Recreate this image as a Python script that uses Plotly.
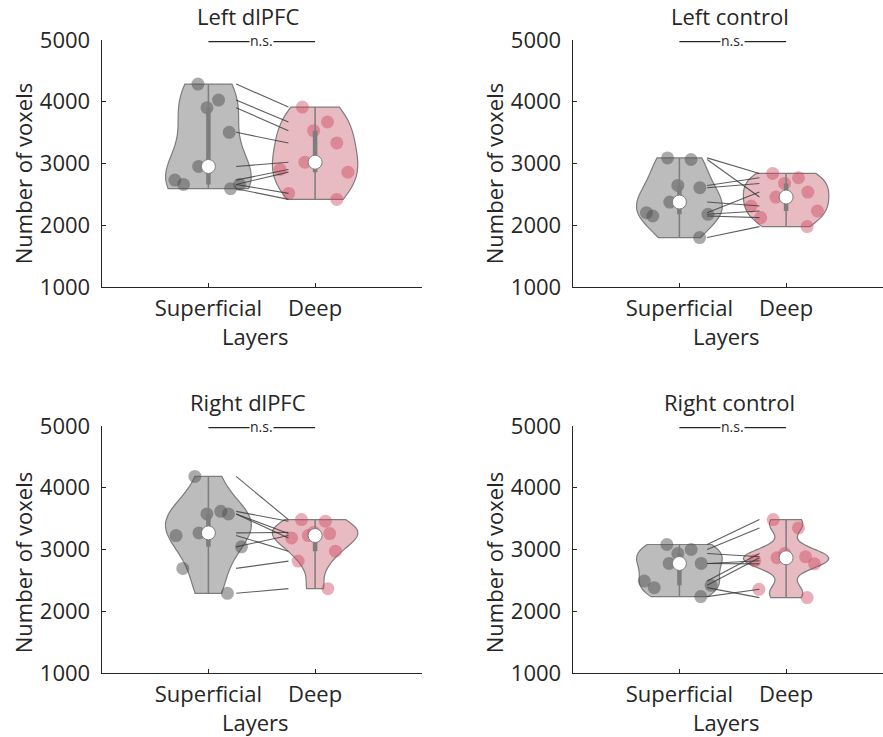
import numpy as np
import plotly.graph_objects as go

# ---- data -------------------------------------------------------------
LAYERS = ["Superficial", "Deep"]
PANEL_TITLES = ["Left dlPFC", "Left control", "Right dlPFC", "Right control"]
Y_TICKS = [1000, 2000, 3000, 4000, 5000]
SIG_LABEL = "n.s."

# voxel counts per subject (same subject order in both layers)
left_dlpfc_sup = [4286, 4027, 3903, 3505, 2952, 2731, 2661, 2661, 2592]
left_dlpfc_deep = [3914, 3672, 3532, 3333, 3021, 2903, 2860, 2516, 2419]

left_control_sup = [3091, 3065, 2645, 2608, 2376, 2204, 2177, 2150, 1801]
left_control_deep = [2839, 2457, 2769, 2677, 2312, 2538, 2231, 2124, 1978]

right_dlpfc_sup = [4183, 3618, 3576, 3576, 3269, 3226, 3043, 2694, 2291]
right_dlpfc_deep = [3484, 3458, 3258, 3188, 3278, 2973, 3226, 2812, 2366]

right_control_sup = [3081, 3000, 2936, 2774, 2774, 2489, 2420, 2382, 2237]
right_control_deep = [3484, 3350, 2882, 2818, 2768, 2936, 2866, 2221, 2355]

PANEL_DATA = [
    (left_dlpfc_sup, left_dlpfc_deep),
    (left_control_sup, left_control_deep),
    (right_dlpfc_sup, right_dlpfc_deep),
    (right_control_sup, right_control_deep),
]

# kernel bandwidth per violin (None -> library default)
BANDWIDTHS = [
    (None, None),
    (None, None),
    (None, None),
    (None, 150),
]

# ---- style ------------------------------------------------------------
W, H = 883, 737
FONT = "Open Sans"
FS = 22
TXT = "#262626"
EDGE = "rgb(125,125,125)"
FILLS = ["rgb(188,188,188)", "rgb(232,186,193)"]
DOTS = ["rgba(75,75,75,0.47)", "rgba(205,70,95,0.44)"]
PAIR_LINE = "rgba(55,55,55,0.8)"

POS = [1, 2]            # category positions on the x axis
PX_PER_UNIT = 106.7
# pixel geometry of the axes boxes
X_LEFT = [101.7, 572.7]
Y_TOP = [40, 426]
Y_BOT = [287, 673]
YTITLE_SHIFT = [10, 13]
NS_Y = 4975

fig = go.Figure()
layout = dict(
    width=W, height=H, margin=dict(l=0, r=0, t=0, b=0, autoexpand=False),
    paper_bgcolor="white", plot_bgcolor="white", showlegend=False,
    font=dict(family=FONT, size=FS, color=TXT),
)
annotations = []
shapes = []

for k, (sup, deep) in enumerate(PANEL_DATA):
    row, col = divmod(k, 2)
    ax = "" if k == 0 else str(k + 1)
    xref, yref = "x" + ax, "y" + ax

    x0 = X_LEFT[col]
    x1 = min(x0 + 3 * PX_PER_UNIT, W)
    xr = (x1 - x0) / PX_PER_UNIT
    layout["xaxis" + ax] = dict(
        domain=[x0 / W, x1 / W], range=[0, xr], anchor=yref, automargin=False,
        tickmode="array", tickvals=POS, ticktext=LAYERS,
        ticks="inside", ticklen=4, tickcolor=TXT, tickwidth=1.2,
        showline=True, linecolor=TXT, linewidth=1.3,
        showgrid=False, zeroline=False, fixedrange=True,
        tickfont=dict(family=FONT, size=FS, color=TXT), ticklabelstandoff=1,
    )
    layout["yaxis" + ax] = dict(
        domain=[1 - Y_BOT[row] / H, 1 - Y_TOP[row] / H], range=[1000, 5000],
        anchor=xref, automargin=False, tickmode="array", tickvals=Y_TICKS,
        ticks="inside", ticklen=4, tickcolor=TXT, tickwidth=1.2,
        showline=True, linecolor=TXT, linewidth=1.3,
        showgrid=False, zeroline=False, fixedrange=True,
        tickfont=dict(family=FONT, size=FS, color=TXT), ticklabelstandoff=6,
    )

    # paired subject lines between the two violins
    for a, b in zip(sup, deep):
        fig.add_trace(go.Scatter(
            x=[POS[0] + 0.26, POS[1] - 0.25], y=[a, b], mode="lines",
            line=dict(color=PAIR_LINE, width=1.1), hoverinfo="skip",
            xaxis=xref, yaxis=yref,
        ))

    for j, vals in enumerate((sup, deep)):
        vals = np.asarray(vals, dtype=float)
        violin_kw = {}
        if BANDWIDTHS[k][j] is not None:
            violin_kw["bandwidth"] = BANDWIDTHS[k][j]
        fig.add_trace(go.Violin(
            x=[POS[j]] * len(vals), y=vals, name=LAYERS[j],
            xaxis=xref, yaxis=yref,
            width=0.8, scalemode="width", spanmode="hard", side="both",
            fillcolor=FILLS[j], line=dict(color=EDGE, width=1.2),
            points="all", pointpos=0, jitter=1.0,
            marker=dict(size=13, color=DOTS[j], line=dict(width=0)),
            box=dict(visible=False), meanline=dict(visible=False),
            hoveron="points", **violin_kw,
        ))
        q1, med, q3 = np.percentile(vals, [25, 50, 75])
        # full range line
        fig.add_trace(go.Scatter(
            x=[POS[j], POS[j]], y=[vals.min(), vals.max()], mode="lines",
            line=dict(color=EDGE, width=1.5), hoverinfo="skip",
            xaxis=xref, yaxis=yref,
        ))
        # interquartile bar
        fig.add_trace(go.Scatter(
            x=[POS[j], POS[j]], y=[q1, q3], mode="lines",
            line=dict(color=EDGE, width=4.5), hoverinfo="skip",
            xaxis=xref, yaxis=yref,
        ))
        # median marker
        fig.add_trace(go.Scatter(
            x=[POS[j]], y=[med], mode="markers",
            marker=dict(size=14, color="white", line=dict(color=EDGE, width=1)),
            xaxis=xref, yaxis=yref,
        ))

    # panel title
    title_x = 1.37 if "dlPFC" in PANEL_TITLES[k] else 1.47
    annotations.append(dict(
        text=PANEL_TITLES[k], x=title_x, xref=xref, y=1, yref=yref + " domain",
        yanchor="bottom", yshift=7, showarrow=False,
        font=dict(family=FONT, size=FS, color=TXT),
    ))
    # significance bracket
    shapes.append(dict(
        type="line", xref=xref, yref=yref, x0=POS[0], x1=POS[1],
        y0=NS_Y, y1=NS_Y, line=dict(color=TXT, width=1.2),
    ))
    annotations.append(dict(
        text=SIG_LABEL, x=1.5, xref=xref, y=NS_Y, yref=yref,
        yanchor="middle", yshift=1, showarrow=False, bgcolor="white",
        borderpad=0, font=dict(family=FONT, size=14, color=TXT),
    ))
    # x axis title
    annotations.append(dict(
        text="Layers", x=1.44, xref=xref, y=0, yref=yref + " domain",
        yanchor="top", yshift=-32, showarrow=False,
        font=dict(family=FONT, size=FS, color=TXT),
    ))
    # y axis title
    annotations.append(dict(
        text="Number of voxels", textangle=-90,
        x=(x0 - 79) / W, xref="paper", xanchor="center",
        y=1 - ((Y_TOP[row] + Y_BOT[row]) / 2 + YTITLE_SHIFT[row]) / H,
        yref="paper", yanchor="middle",
        showarrow=False, font=dict(family=FONT, size=FS, color=TXT),
    ))

layout["annotations"] = annotations
layout["shapes"] = shapes
fig.update_layout(**layout)
fig.write_html("out.html")
